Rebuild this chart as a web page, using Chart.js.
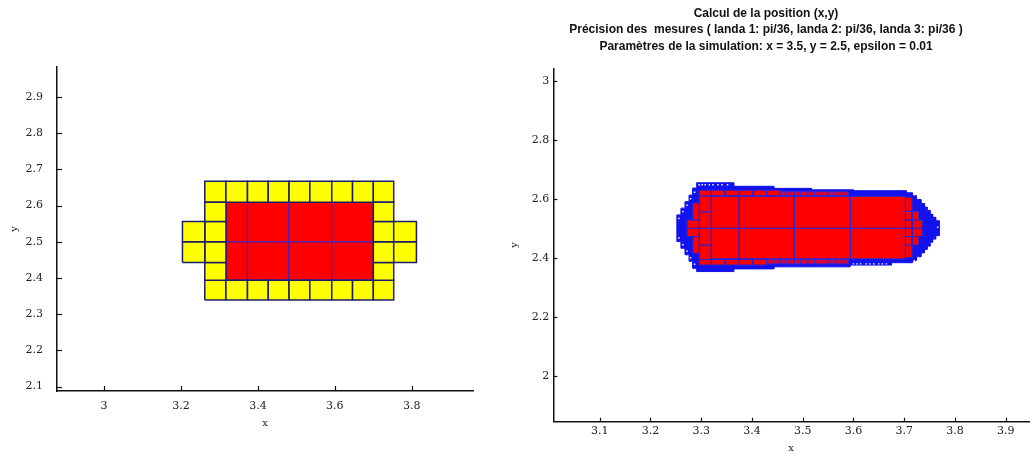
<!DOCTYPE html>
<html>
<head>
<meta charset="utf-8">
<script src="https://cdn.jsdelivr.net/npm/chart.js@4"></script>
<style>
  body { margin: 0; background: #fff; }
  #left { position: absolute; left: 0; top: 0; }
  #right { position: absolute; left: 500px; top: 0; }
</style>
</head>
<body>
<canvas id="left" width="500" height="454"></canvas>
<canvas id="right" width="533" height="454"></canvas>
<script>
// ---- left plot: first bisection level ----
const leftXTicks = [3, 3.2, 3.4, 3.6, 3.8];
const leftYTicks = [2.1, 2.2, 2.3, 2.4, 2.5, 2.6, 2.7, 2.8, 2.9];
const leftGridX = [3.204, 3.262, 3.317, 3.373, 3.427, 3.481, 3.535, 3.592, 3.646, 3.700, 3.753, 3.812];
const leftGridY = [2.339, 2.394, 2.443, 2.500, 2.556, 2.609, 2.667];
// yellow cells as [column, row] in the grid above
const leftYellow = [
    [1,5],[2,5],[3,5],[4,5],[5,5],[6,5],[7,5],[8,5],[9,5],
    [1,0],[2,0],[3,0],[4,0],[5,0],[6,0],[7,0],[8,0],[9,0],
    [1,1],[1,2],[1,3],[1,4],[9,1],[9,2],[9,3],[9,4],
    [0,2],[0,3],[10,2],[10,3]
];
// red cells as [col0, col1, row0, row1]
const leftRed = [
    [2,3,1,3],[3,5,1,3],[5,7,1,3],[7,9,1,3],
    [2,3,3,5],[3,5,3,5],[5,7,3,5],[7,9,3,5]
];

// ---- right plot: refined boxes ----
const rightXTicks = [3.1, 3.2, 3.3, 3.4, 3.5, 3.6, 3.7, 3.8, 3.9];
const rightYTicks = [2, 2.2, 2.4, 2.6, 2.8, 3];
const rightBigX = [3.320, 3.375, 3.483, 3.594, 3.702];
const rightBigY = [2.396, 2.500, 2.608];
const rightOutlineX = [3.291,3.364,3.364,3.443,3.443,3.517,3.517,3.600,3.600,3.704,3.704,3.716,3.716,3.724,3.724,3.733,3.733,3.740,3.740,3.745,3.745,3.751,3.751,3.756,3.756,3.762,3.762,3.769,
    3.769,3.762,3.762,3.756,3.756,3.751,3.751,3.745,3.745,3.740,3.740,3.733,3.733,3.724,3.724,3.716,3.716,3.675,3.675,3.593,3.593,3.443,3.443,3.364,3.364,3.291,
    3.291,3.283,3.283,3.276,3.276,3.268,3.268,3.260,3.260,3.252,3.252,3.260,3.260,3.268,3.268,3.276,3.276,3.283,3.283,3.291,3.291];
const rightOutlineY = [2.654,2.654,2.642,2.642,2.635,2.635,2.630,2.630,2.627,2.627,2.620,2.620,2.610,2.610,2.597,2.597,2.584,2.584,2.572,2.572,2.561,2.561,2.548,2.548,2.538,2.538,2.525,2.525,
    2.475,2.475,2.462,2.462,2.452,2.452,2.439,2.439,2.428,2.428,2.416,2.416,2.403,2.403,2.390,2.390,2.383,2.383,2.375,2.375,2.369,2.369,2.362,2.362,2.353,2.353,
    2.364,2.364,2.388,2.388,2.410,2.410,2.432,2.432,2.455,2.455,2.545,2.545,2.568,2.568,2.590,2.590,2.612,2.612,2.636,2.636,2.654];
// smaller inner boxes [x0, x1, y0, y1]
const rightFineRed = [
    [3.296,3.320,2.392,2.443],[3.296,3.320,2.443,2.500],[3.296,3.320,2.500,2.556],[3.296,3.320,2.556,2.610],
    [3.283,3.296,2.415,2.472],[3.272,3.296,2.472,2.500],[3.272,3.296,2.500,2.528],[3.283,3.296,2.528,2.585],
    [3.296,3.320,2.610,2.629],[3.320,3.347,2.610,2.629],[3.347,3.375,2.610,2.629],[3.375,3.402,2.610,2.629],[3.402,3.429,2.610,2.629],[3.429,3.456,2.610,2.629],
    [3.296,3.320,2.375,2.394],[3.320,3.347,2.375,2.394],[3.347,3.375,2.375,2.394],[3.375,3.402,2.375,2.394],[3.402,3.429,2.375,2.394],
    [3.702,3.716,2.400,2.443],[3.702,3.716,2.443,2.472],[3.702,3.716,2.472,2.500],[3.702,3.716,2.500,2.528],[3.702,3.716,2.528,2.557],[3.702,3.716,2.557,2.605],
    [3.716,3.729,2.443,2.472],[3.716,3.736,2.472,2.500],[3.716,3.736,2.500,2.528],[3.716,3.729,2.528,2.557]
];
const rightTopStripX = [3.456,3.469,3.483,3.496,3.510,3.523,3.537,3.550,3.563,3.577,3.590];
const rightTopStripY = [2.610, 2.624];
const rightBottomStripX = [3.429,3.443,3.456,3.469,3.483,3.496,3.510,3.523,3.537,3.550,3.563,3.577,3.590];
const rightBottomStripY = [2.379, 2.394];
const rightDotsX = [3.296,3.302,3.308,3.316,3.323,3.333,3.341,3.352,
    3.600,3.607,3.614,3.625,3.632,3.640,3.650,3.657,3.665,
    3.287,3.279,3.272,3.264,3.256,3.256,3.264,3.272,3.279,3.287,
    3.720,3.728,3.737,3.743,3.749,3.754,3.760,3.766,3.760,3.754,3.749,3.743,3.737,3.728,3.720];
const rightDotsY = [2.647,2.647,2.647,2.647,2.647,2.647,2.647,2.647,
    2.379,2.379,2.379,2.379,2.379,2.379,2.379,2.379,2.379,
    2.622,2.600,2.578,2.556,2.533,2.467,2.444,2.422,2.400,2.378,
    2.614,2.602,2.589,2.576,2.565,2.552,2.540,2.503,2.460,2.448,2.435,2.424,2.411,2.398,2.390];

const tickFont = { family: "'DejaVu Serif'", size: 11 };
const axisColor = "#111";

function box(x0, x1, y0, y1) {
    return [{x:x0,y:y0},{x:x1,y:y0},{x:x1,y:y1},{x:x0,y:y1},{x:x0,y:y0}];
}

function cell(pts, fill, edge, w) {
    return {
        data: pts, showLine: true, fill: "shape",
        backgroundColor: fill, borderColor: edge, borderWidth: w,
        pointRadius: 0, tension: 0
    };
}

// ticks pointing inward, like the original
const inTicks = {
    id: "inTicks",
    afterDraw(chart, args, opts) {
        const { ctx, chartArea: a, scales } = chart;
        ctx.save();
        ctx.strokeStyle = axisColor;
        ctx.lineWidth = 1.2;
        scales.x.ticks.forEach(t => {
            const p = Math.round(scales.x.getPixelForValue(t.value)) + 0.5;
            ctx.beginPath(); ctx.moveTo(p, a.bottom); ctx.lineTo(p, a.bottom - opts.len); ctx.stroke();
        });
        scales.y.ticks.forEach(t => {
            const p = Math.round(scales.y.getPixelForValue(t.value)) + 0.5;
            ctx.beginPath(); ctx.moveTo(a.left, p); ctx.lineTo(a.left + opts.len, p); ctx.stroke();
        });
        ctx.restore();
    }
};

function scaleOpts(min, max, list, o) {
    return {
        type: "linear", min: min, max: max,
        afterBuildTicks: s => { s.ticks = list.map(v => ({ value: v })); },
        afterFit: s => { if (s.isHorizontal()) s.height = o.size; else s.width = o.size; },
        grid: { display: false, drawTicks: false },
        border: { display: true, color: axisColor, width: 1.5 },
        ticks: { font: tickFont, color: "#222", padding: o.pad, autoSkip: false, maxRotation: 0,
                 callback: v => String(v) },
        title: { display: true, text: o.title, color: "#222",
                 font: { family: "'DejaVu Serif'", size: 10 }, padding: o.tpad }
    };
}

// chart.js paints dataset 0 last, so flip the list to keep the push order as paint order
function bottomFirst(sets) {
    return sets.slice().reverse();
}

// ---- left chart ----
const leftSets = [];
leftRed.forEach(c => leftSets.push(cell(box(leftGridX[c[0]], leftGridX[c[1]], leftGridY[c[2]], leftGridY[c[3]]),
    "#ff0000", "#2a2ad8", 1.2)));
leftYellow.forEach(c => leftSets.push(cell(box(leftGridX[c[0]], leftGridX[c[0] + 1], leftGridY[c[1]], leftGridY[c[1] + 1]),
    "#ffff00", "#1c1c6c", 1.5)));

new Chart(document.getElementById("left"), {
    type: "scatter",
    data: { datasets: bottomFirst(leftSets) },
    options: {
        responsive: false, animation: false, events: [],
        layout: { padding: { left: 0, right: 27, top: 67, bottom: 0 } },
        plugins: { legend: { display: false }, tooltip: { enabled: false }, inTicks: { len: 5 } },
        scales: {
            x: scaleOpts(2.878, 3.959, leftXTicks, { size: 63, pad: 9, title: "x", tpad: { top: 0, bottom: 25 } }),
            y: scaleOpts(2.0876, 2.983, leftYTicks, { size: 57, pad: 14, title: "y", tpad: { top: 8, bottom: 0 } })
        }
    },
    plugins: [inTicks]
});

// ---- right chart ----
const rightSets = [];
const outline = rightOutlineX.map((x, i) => ({ x: x, y: rightOutlineY[i] }));
rightSets.push(cell(outline, "#1212ee", "#1212ee", 1));
rightFineRed.forEach(c => rightSets.push(cell(box(c[0], c[1], c[2], c[3]), "#ff0000", "#2424d8", 1)));
for (let i = 0; i < rightTopStripX.length - 1; i++) {
    rightSets.push(cell(box(rightTopStripX[i], rightTopStripX[i + 1], rightTopStripY[0], rightTopStripY[1]), "#e00030", "#3a2ad0", 1));
}
for (let i = 0; i < rightBottomStripX.length - 1; i++) {
    rightSets.push(cell(box(rightBottomStripX[i], rightBottomStripX[i + 1], rightBottomStripY[0], rightBottomStripY[1]), "#e00030", "#3a2ad0", 1));
}
for (let i = 0; i < rightBigX.length - 1; i++) {
    for (let j = 0; j < rightBigY.length - 1; j++) {
        rightSets.push(cell(box(rightBigX[i], rightBigX[i + 1], rightBigY[j], rightBigY[j + 1]), "#ff0000", "#2a2ad8", 1));
    }
}
rightSets.push({
    data: rightDotsX.map((x, i) => ({ x: x, y: rightDotsY[i] })),
    pointStyle: "rect", pointRadius: 1, borderWidth: 0,
    backgroundColor: "#ffffff", showLine: false
});

new Chart(document.getElementById("right"), {
    type: "scatter",
    data: { datasets: bottomFirst(rightSets) },
    options: {
        responsive: false, animation: false, events: [],
        layout: { padding: { left: 0, right: 1, top: 0, bottom: 0 } },
        plugins: {
            legend: { display: false }, tooltip: { enabled: false }, inTicks: { len: 4 },
            title: {
                display: true, color: "#111",
                font: { family: "'Liberation Sans'", size: 12, lineHeight: 1.375 },
                padding: { top: 5, bottom: 13.8 },
                text: [
                    "Calcul de la position (x,y)",
                    "Précision des  mesures ( landa 1: pi/36, landa 2: pi/36, landa 3: pi/36 )",
                    "Paramètres de la simulation: x = 3.5, y = 2.5, epsilon = 0.01"
                ]
            }
        },
        scales: {
            x: scaleOpts(3.0085, 3.946, rightXTicks, { size: 32.3, pad: 2.4, title: "x", tpad: { top: 0, bottom: 0 } }),
            y: scaleOpts(1.844, 3.042, rightYTicks, { size: 53.3, pad: 4, title: "y", tpad: { top: 8, bottom: 0 } })
        }
    },
    plugins: [inTicks]
});
</script>
</body>
</html>
